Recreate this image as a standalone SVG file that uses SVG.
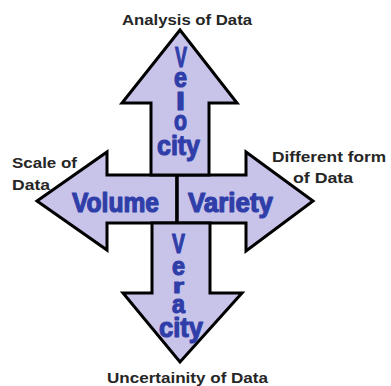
<svg xmlns="http://www.w3.org/2000/svg" width="391" height="386" viewBox="0 0 391 386">
<style>
.arrow{fill:#c8c3e9;stroke:#000;stroke-width:3;stroke-linejoin:miter}
.big{font-family:"Liberation Sans",Arial,sans-serif;font-weight:700;fill:#2f3ea8;stroke:#2f3ea8;stroke-width:1.2;stroke-linejoin:round}
.lbl{font-family:"Liberation Sans",Arial,sans-serif;font-weight:700;fill:#262626;font-size:15px}
</style>
<rect width="391" height="386" fill="#fff"/>
<g id="volume">
<polygon class="arrow" points="177,175 107,175 107,152 37,201 107,250 107,223 177,223"/>
<text class="big" x="72" y="212" font-size="27" textLength="87" lengthAdjust="spacingAndGlyphs">Volume</text>
</g>
<g id="variety">
<polygon class="arrow" points="177,175 246,175 246,152 313,201 246,251 246,223 177,223"/>
<text class="big" x="188" y="212" font-size="27" textLength="85" lengthAdjust="spacingAndGlyphs">Variety</text>
</g>
<g id="velocity">
<polygon class="arrow" points="151,175 151,103 122,103 180,30 237,103 209,103 209,175"/>
<text class="big" x="175" y="67" font-size="30" textLength="12" lengthAdjust="spacingAndGlyphs">V</text>
<text class="big" x="174" y="87" font-size="27" textLength="13" lengthAdjust="spacingAndGlyphs">e</text>
<text class="big" x="176" y="110" font-size="23" textLength="9" lengthAdjust="spacingAndGlyphs">l</text>
<text class="big" x="174" y="130" font-size="27" textLength="13" lengthAdjust="spacingAndGlyphs">o</text>
<text class="big" x="157" y="155" font-size="28" textLength="43" lengthAdjust="spacingAndGlyphs">city</text>
</g>
<g id="veracity">
<polygon class="arrow" points="152,223 152,293 123,293 180,362 242,293 210,293 210,223"/>
<text class="big" x="172" y="253" font-size="28" textLength="13" lengthAdjust="spacingAndGlyphs">V</text>
<text class="big" x="172" y="275" font-size="25" textLength="13" lengthAdjust="spacingAndGlyphs">e</text>
<text class="big" x="173" y="293" font-size="21" textLength="11" lengthAdjust="spacingAndGlyphs">r</text>
<text class="big" x="172" y="313" font-size="25" textLength="13" lengthAdjust="spacingAndGlyphs">a</text>
<text class="big" x="159" y="337" font-size="28" textLength="44" lengthAdjust="spacingAndGlyphs">city</text>
</g>
<g id="line-divider">
<line x1="177" y1="175" x2="177" y2="223" stroke="#000" stroke-width="3"/>
</g>
<g id="labels">
<text class="lbl" x="122" y="25" textLength="130" lengthAdjust="spacingAndGlyphs">Analysis of Data</text>
<text class="lbl" x="12" y="168" textLength="65" lengthAdjust="spacingAndGlyphs">Scale of</text>
<text class="lbl" x="12" y="190" textLength="38" lengthAdjust="spacingAndGlyphs">Data</text>
<text class="lbl" x="272" y="162" textLength="114" lengthAdjust="spacingAndGlyphs">Different form</text>
<text class="lbl" x="293" y="183" textLength="60" lengthAdjust="spacingAndGlyphs">of Data</text>
<text class="lbl" x="107" y="383" textLength="161" lengthAdjust="spacingAndGlyphs">Uncertainity of Data</text>
</g>
</svg>
